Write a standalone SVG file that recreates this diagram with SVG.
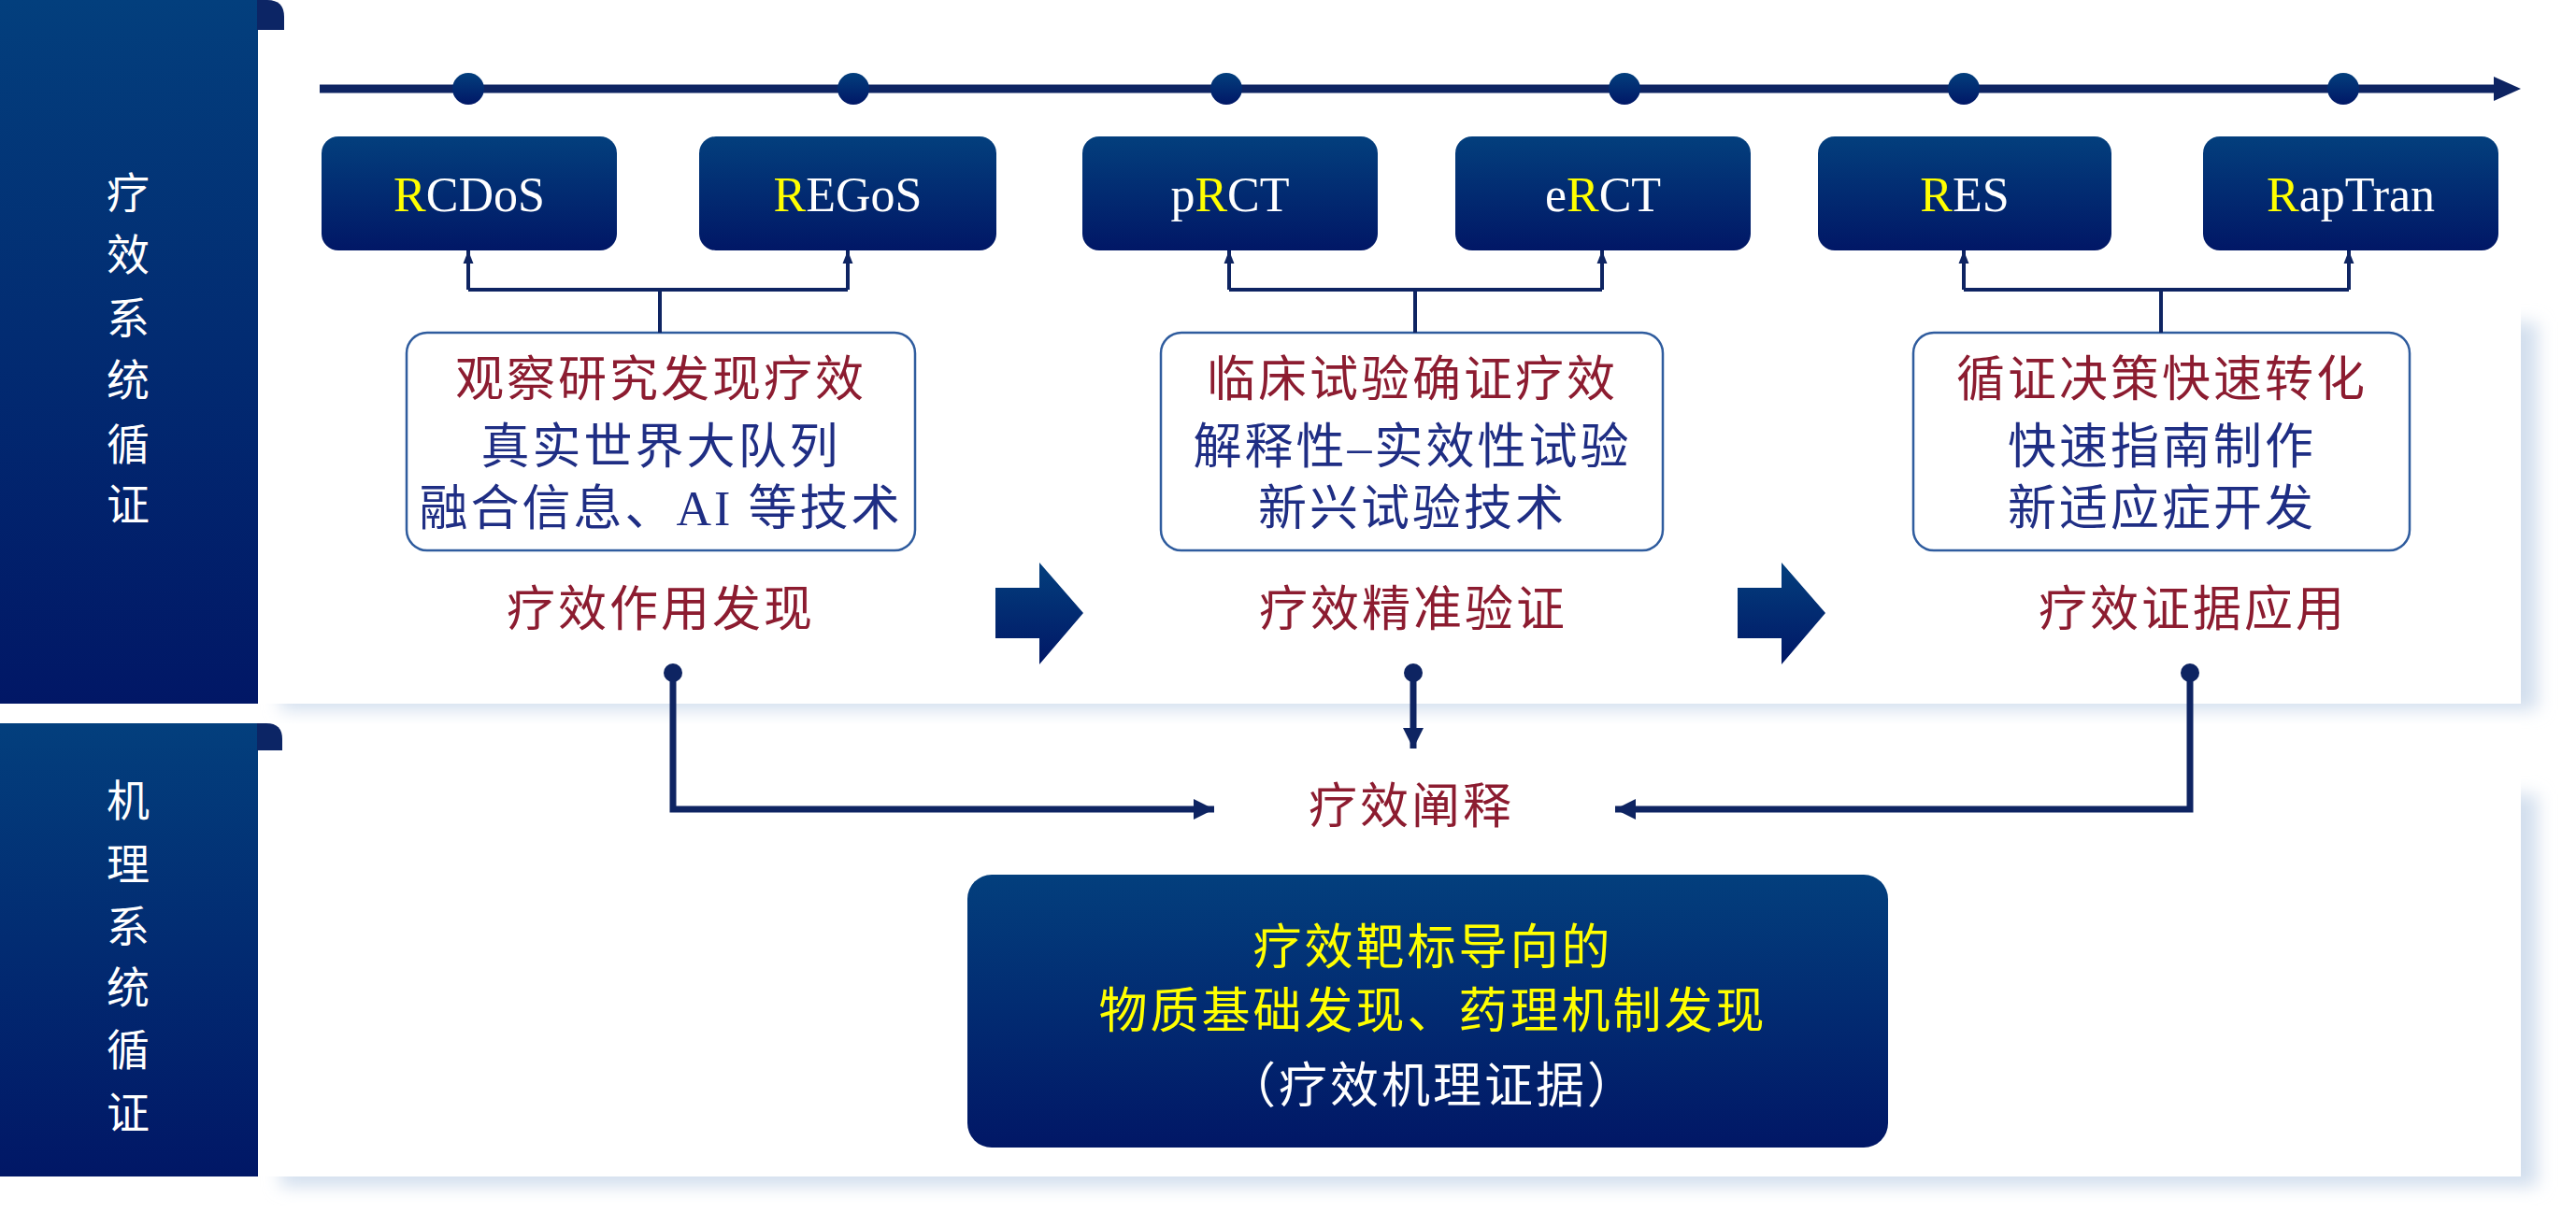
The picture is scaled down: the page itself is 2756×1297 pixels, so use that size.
<svg xmlns="http://www.w3.org/2000/svg" width="2756" height="1297" viewBox="0 0 2756 1297">
<style>
.cn{font-family:"Liberation Serif","Noto Sans CJK SC",serif;font-size:52px;letter-spacing:3px;text-anchor:middle}
.red{fill:#8C1C30}
.navy{fill:#1F2E84}
.wt{fill:#FFFFFF}
.yl{fill:#FFFF00}
.lat{font-family:"Liberation Serif",serif;font-size:52px;fill:#FFFFFF;text-anchor:middle}
.side{font-family:"Noto Sans CJK SC",sans-serif;font-size:46px;fill:#FFFFFF;text-anchor:middle}
.tbox{fill:#FFFFFF;stroke:#2F5C9E;stroke-width:2.5}
.thin{fill:none;stroke:#0E2462;stroke-width:4}
.thick{fill:none;stroke:#0E2462;stroke-width:7}
</style>
<defs>
<linearGradient id="navyGrad" x1="0" y1="0" x2="0" y2="1">
<stop offset="0" stop-color="#033F7D"/>
<stop offset="1" stop-color="#011766"/>
</linearGradient>
<filter id="soft" x="-5%" y="-5%" width="110%" height="110%">
<feGaussianBlur stdDeviation="9"/>
</filter>
<marker id="arrS" markerUnits="userSpaceOnUse" markerWidth="14" markerHeight="18" viewBox="0 0 18 14" refX="18" refY="7" orient="auto">
<path d="M0,0 L18,7 L0,14 Z" fill="#0E2462"/>
</marker>
<marker id="arrL" markerUnits="userSpaceOnUse" markerWidth="22" markerHeight="22" viewBox="0 0 22 22" refX="22" refY="11" orient="auto">
<path d="M0,0 L22,11 L0,22 Z" fill="#0E2462"/>
</marker>
</defs>
<rect x="0" y="0" width="2756" height="1297" fill="#FFFFFF"/>

<g id="cards">
<rect x="300" y="345" width="2415" height="415" fill="#D3DFEE" filter="url(#soft)"/>
<rect x="277" y="0" width="2420" height="753" fill="#FFFFFF"/>
<rect x="300" y="850" width="2415" height="420" fill="#D3DFEE" filter="url(#soft)"/>
<rect x="277" y="774" width="2420" height="485" fill="#FFFFFF"/>
</g>

<g id="panel-efficacy">
<rect x="0" y="0" width="276" height="753" fill="url(#navyGrad)"/>
<path d="M275,0 H286 Q304,0 304,18 V32 H275 Z" fill="#0C2565"/>
<text class="side" x="137" y="223">疗</text>
<text class="side" x="137" y="289">效</text>
<text class="side" x="137" y="357">系</text>
<text class="side" x="137" y="423">统</text>
<text class="side" x="137" y="492">循</text>
<text class="side" x="137" y="556">证</text>
</g>

<g id="panel-mechanism">
<rect x="0" y="774" width="276" height="485" fill="url(#navyGrad)"/>
<path d="M275,774 H285 Q302,774 302,791 V803 H275 Z" fill="#0C2565"/>
<text class="side" x="137" y="873">机</text>
<text class="side" x="137" y="941">理</text>
<text class="side" x="137" y="1008">系</text>
<text class="side" x="137" y="1073">统</text>
<text class="side" x="137" y="1140">循</text>
<text class="side" x="137" y="1207">证</text>
</g>

<g id="timeline">
<path d="M342,95 H2672" fill="none" stroke="#0E2462" stroke-width="9"/>
<path d="M2668,82 L2697,95 L2668,108 Z" fill="#0E2462"/>
<circle cx="501" cy="95" r="17" fill="url(#navyGrad)"/>
<circle cx="913" cy="95" r="17" fill="url(#navyGrad)"/>
<circle cx="1312" cy="95" r="17" fill="url(#navyGrad)"/>
<circle cx="1738" cy="95" r="17" fill="url(#navyGrad)"/>
<circle cx="2101" cy="95" r="17" fill="url(#navyGrad)"/>
<circle cx="2507" cy="95" r="17" fill="url(#navyGrad)"/>
</g>

<g id="node-RCDoS">
<rect x="344" y="146" width="316" height="122" rx="18" fill="url(#navyGrad)"/>
<text class="lat" x="502" y="226"><tspan class="yl">R</tspan>CDoS</text>
</g>
<g id="node-REGoS">
<rect x="748" y="146" width="318" height="122" rx="18" fill="url(#navyGrad)"/>
<text class="lat" x="907" y="226"><tspan class="yl">R</tspan>EGoS</text>
</g>
<g id="node-pRCT">
<rect x="1158" y="146" width="316" height="122" rx="18" fill="url(#navyGrad)"/>
<text class="lat" x="1316" y="226">p<tspan class="yl">R</tspan>CT</text>
</g>
<g id="node-eRCT">
<rect x="1557" y="146" width="316" height="122" rx="18" fill="url(#navyGrad)"/>
<text class="lat" x="1715" y="226">e<tspan class="yl">R</tspan>CT</text>
</g>
<g id="node-RES">
<rect x="1945" y="146" width="314" height="122" rx="18" fill="url(#navyGrad)"/>
<text class="lat" x="2102" y="226"><tspan class="yl">R</tspan>ES</text>
</g>
<g id="node-RapTran">
<rect x="2357" y="146" width="316" height="122" rx="18" fill="url(#navyGrad)"/>
<text class="lat" x="2515" y="226"><tspan class="yl">R</tspan>apTran</text>
</g>

<g id="node-discovery">
<rect class="tbox" x="435" y="356" width="544" height="233" rx="22"/>
<text class="cn red" x="707" y="424">观察研究发现疗效</text>
<text class="cn navy" x="707" y="496">真实世界大队列</text>
<text class="cn navy" x="707" y="562">融合信息、AI 等技术</text>
</g>
<g id="node-validation">
<rect class="tbox" x="1242" y="356" width="537" height="233" rx="22"/>
<text class="cn red" x="1511" y="424">临床试验确证疗效</text>
<text class="cn navy" x="1511" y="496">解释性–实效性试验</text>
<text class="cn navy" x="1511" y="562">新兴试验技术</text>
</g>
<g id="node-application">
<rect class="tbox" x="2047" y="356" width="531" height="233" rx="22"/>
<text class="cn red" x="2313" y="424">循证决策快速转化</text>
<text class="cn navy" x="2313" y="496">快速指南制作</text>
<text class="cn navy" x="2313" y="562">新适应症开发</text>
</g>

<g id="stage-labels">
<text class="cn red" x="707" y="670">疗效作用发现</text>
<text class="cn red" x="1512" y="670">疗效精准验证</text>
<text class="cn red" x="2346" y="670">疗效证据应用</text>
<text class="cn red" x="1510" y="881">疗效阐释</text>
</g>

<g id="stage-arrows">
<path d="M1065,629 H1112 V602 L1159,656 L1112,711 V683 H1065 Z" fill="url(#navyGrad)"/>
<path d="M1859,629 H1906 V602 L1953,656 L1906,711 V683 H1859 Z" fill="url(#navyGrad)"/>
</g>

<g id="node-mechanism">
<rect x="1035" y="936" width="985" height="292" rx="26" fill="url(#navyGrad)"/>
<text class="cn yl" x="1533" y="1032">疗效靶标导向的</text>
<text class="cn yl" x="1533" y="1100">物质基础发现、药理机制发现</text>
<text class="cn wt" x="1533" y="1180">（疗效机理证据）</text>
</g>

<g id="connectors">
<path class="thin" d="M706,356 V310 M501,310 H907"/>
<path class="thin" d="M501,310 V268" marker-end="url(#arrS)"/>
<path class="thin" d="M907,310 V268" marker-end="url(#arrS)"/>
<path class="thin" d="M1514,356 V310 M1315,310 H1714"/>
<path class="thin" d="M1315,310 V268" marker-end="url(#arrS)"/>
<path class="thin" d="M1714,310 V268" marker-end="url(#arrS)"/>
<path class="thin" d="M2312,356 V310 M2101,310 H2513"/>
<path class="thin" d="M2101,310 V268" marker-end="url(#arrS)"/>
<path class="thin" d="M2513,310 V268" marker-end="url(#arrS)"/>
<path class="thick" d="M720,720 V866 H1299" marker-end="url(#arrL)"/>
<path class="thick" d="M1512,720 V801" marker-end="url(#arrL)"/>
<path class="thick" d="M2343,720 V866 H1728" marker-end="url(#arrL)"/>
<circle cx="720" cy="720" r="10" fill="#0E2462"/>
<circle cx="1512" cy="720" r="10" fill="#0E2462"/>
<circle cx="2343" cy="720" r="10" fill="#0E2462"/>
</g>
</svg>
